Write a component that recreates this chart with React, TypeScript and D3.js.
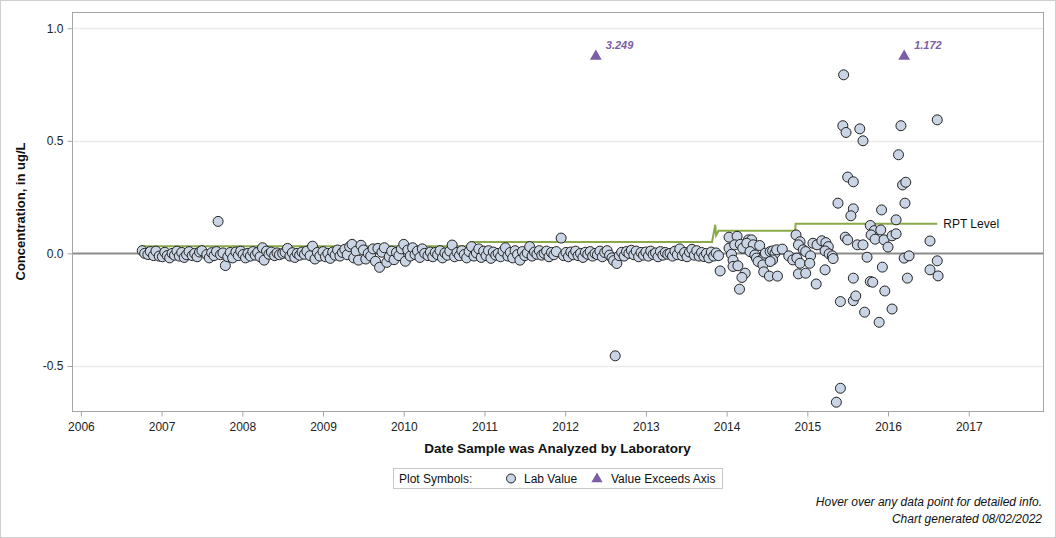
import * as d3 from "d3";
import { useEffect, useRef } from "react";

// Lab results as [decimal year, concentration ug/L]
const samples2006to2008: [number, number][] = [
  [2006.76, 0.012], [2006.79, 0.0], [2006.83, -0.005], [2006.86, 0.008], [2006.9, -0.01], [2006.93, 0.01], [2006.97, -0.012],
  [2007.01, -0.015], [2007.04, 0.005], [2007.07, -0.01], [2007.1, -0.02], [2007.13, 0.0], [2007.16, -0.008], [2007.19, 0.01],
  [2007.22, -0.012], [2007.25, 0.004], [2007.28, -0.018], [2007.31, -0.006], [2007.34, 0.008], [2007.38, -0.01], [2007.41, 0.0],
  [2007.44, -0.015], [2007.47, 0.006], [2007.5, 0.012], [2007.56, -0.005], [2007.59, -0.02], [2007.62, 0.003], [2007.65, -0.01],
  [2007.68, 0.008], [2007.7, 0.142], [2007.73, -0.006], [2007.76, 0.002], [2007.79, -0.054], [2007.82, -0.015], [2007.85, 0.004],
  [2007.88, -0.02], [2007.92, 0.006], [2007.95, -0.01], [2007.98, 0.01],
  [2008.01, -0.005], [2008.04, -0.02], [2008.07, 0.0], [2008.1, -0.012], [2008.13, 0.008], [2008.16, -0.008], [2008.19, 0.004],
  [2008.22, -0.015], [2008.25, 0.025], [2008.27, -0.03], [2008.3, 0.01], [2008.33, -0.004], [2008.36, 0.006], [2008.4, -0.01],
  [2008.43, 0.002], [2008.46, -0.006], [2008.5, 0.0], [2008.53, 0.005], [2008.56, 0.022], [2008.59, -0.012], [2008.62, 0.003],
  [2008.65, -0.018], [2008.68, 0.0], [2008.71, -0.008], [2008.74, 0.006], [2008.77, -0.004], [2008.8, 0.01], [2008.84, -0.01],
  [2008.87, 0.032], [2008.9, -0.025], [2008.93, 0.004], [2008.96, -0.012],
];

const samples2009to2010: [number, number][] = [
  [2009.0, 0.008], [2009.03, -0.015], [2009.06, 0.0], [2009.09, -0.022], [2009.12, 0.006], [2009.15, -0.008], [2009.18, 0.015],
  [2009.21, -0.012], [2009.24, 0.004], [2009.27, 0.018], [2009.3, -0.006], [2009.33, 0.03], [2009.36, 0.04], [2009.38, -0.02],
  [2009.41, 0.01], [2009.44, -0.03], [2009.47, 0.036], [2009.5, 0.015], [2009.53, -0.025], [2009.56, 0.0], [2009.59, -0.012],
  [2009.62, 0.02], [2009.65, -0.035], [2009.68, 0.022], [2009.7, -0.062], [2009.73, 0.005], [2009.76, 0.025], [2009.79, -0.04],
  [2009.82, -0.015], [2009.85, 0.01], [2009.88, -0.028], [2009.91, 0.004], [2009.94, -0.01], [2009.97, 0.02],
  [2010.0, 0.04], [2010.02, -0.035], [2010.05, 0.015], [2010.08, -0.012], [2010.11, 0.025], [2010.14, -0.005], [2010.17, 0.01],
  [2010.2, -0.018], [2010.23, 0.02], [2010.26, 0.0], [2010.3, -0.01], [2010.33, 0.006], [2010.36, -0.015], [2010.39, 0.004],
  [2010.42, -0.006], [2010.45, 0.012], [2010.48, -0.02], [2010.51, 0.002], [2010.54, -0.008], [2010.57, 0.01], [2010.6, 0.037],
  [2010.63, -0.015], [2010.66, 0.004], [2010.69, -0.01], [2010.72, 0.012], [2010.75, -0.005], [2010.78, -0.02], [2010.81, 0.008],
  [2010.84, 0.03], [2010.87, -0.012], [2010.9, 0.002], [2010.93, 0.02], [2010.96, -0.018], [2010.99, 0.01],
];

const samples2011to2013: [number, number][] = [
  [2011.02, -0.01], [2011.05, 0.012], [2011.08, -0.022], [2011.11, 0.006], [2011.14, -0.008], [2011.17, 0.0], [2011.2, -0.015],
  [2011.23, 0.01], [2011.26, 0.025], [2011.29, -0.012], [2011.32, 0.004], [2011.35, -0.02], [2011.38, 0.012], [2011.41, -0.005],
  [2011.44, -0.03], [2011.47, 0.008], [2011.5, -0.01], [2011.53, 0.002], [2011.56, 0.03], [2011.59, -0.012], [2011.62, 0.006],
  [2011.65, -0.004], [2011.68, 0.012], [2011.71, -0.008], [2011.74, 0.0], [2011.77, 0.01], [2011.8, -0.015], [2011.83, 0.004],
  [2011.86, -0.006], [2011.89, 0.008], [2011.95, 0.068], [2011.98, -0.01],
  [2012.01, 0.004], [2012.04, -0.015], [2012.07, 0.006], [2012.1, -0.006], [2012.13, 0.01], [2012.16, -0.01], [2012.19, 0.0],
  [2012.22, -0.018], [2012.25, 0.005], [2012.28, -0.004], [2012.31, 0.008], [2012.34, -0.012], [2012.37, 0.0], [2012.4, -0.006],
  [2012.43, 0.01], [2012.46, -0.015], [2012.49, 0.004], [2012.52, 0.012], [2012.55, -0.008], [2012.58, -0.02], [2012.6, -0.032],
  [2012.62, -0.455], [2012.64, -0.045], [2012.67, -0.01], [2012.7, 0.005], [2012.73, -0.012], [2012.76, 0.008], [2012.79, 0.0],
  [2012.82, 0.014], [2012.85, -0.006], [2012.88, 0.01], [2012.91, -0.015], [2012.94, 0.004], [2012.97, -0.008],
  [2013.0, 0.006], [2013.03, -0.012], [2013.06, 0.01], [2013.09, -0.005], [2013.12, 0.002], [2013.15, -0.015], [2013.18, 0.008],
  [2013.21, -0.008], [2013.24, 0.004], [2013.27, -0.004], [2013.3, 0.0], [2013.33, -0.012], [2013.36, 0.01], [2013.39, -0.006],
  [2013.42, 0.02], [2013.45, -0.01], [2013.48, 0.004], [2013.51, -0.015], [2013.54, 0.006], [2013.57, 0.018], [2013.6, -0.008],
  [2013.63, 0.012], [2013.66, -0.012], [2013.69, 0.004], [2013.72, -0.014], [2013.75, 0.0], [2013.78, -0.02], [2013.81, 0.006],
  [2013.84, -0.012], [2013.87, 0.002], [2013.9, -0.01], [2013.92, -0.078],
];

const samples2014: [number, number][] = [
  [2014.03, 0.072], [2014.13, 0.076], [2014.03, 0.023], [2014.06, -0.004], [2014.08, -0.03], [2014.08, -0.058], [2014.14, -0.055],
  [2014.1, 0.038], [2014.17, 0.04], [2014.2, 0.023], [2014.23, -0.088], [2014.19, -0.107], [2014.16, -0.159], [2014.27, 0.06],
  [2014.31, 0.06], [2014.25, 0.045], [2014.33, 0.038], [2014.41, 0.035], [2014.29, 0.008], [2014.35, -0.007], [2014.37, -0.021],
  [2014.43, -0.029], [2014.39, -0.036], [2014.45, -0.051], [2014.46, -0.082], [2014.53, -0.101], [2014.63, -0.101], [2014.48, 0.001],
  [2014.54, 0.008], [2014.57, 0.011], [2014.6, 0.001], [2014.62, 0.016], [2014.69, 0.019], [2014.57, -0.029], [2014.54, -0.036],
  [2014.77, -0.011], [2014.82, -0.029], [2014.87, -0.021], [2014.91, -0.044], [2014.86, 0.082], [2014.91, 0.052], [2014.89, 0.038],
  [2014.95, 0.016], [2014.98, 0.008], [2014.89, -0.091], [2014.98, -0.088],
];

const samples2015to2016: [number, number][] = [
  [2015.04, -0.011], [2015.03, -0.044], [2015.07, 0.045], [2015.12, 0.038], [2015.18, 0.056], [2015.23, 0.048], [2015.26, 0.03],
  [2015.11, -0.136], [2015.22, -0.073], [2015.22, 0.011], [2015.27, -0.002], [2015.31, -0.011], [2015.32, -0.023],
  [2015.45, 0.793], [2015.44, 0.567], [2015.48, 0.537], [2015.65, 0.553], [2015.69, 0.5], [2016.16, 0.567], [2016.61, 0.593],
  [2016.13, 0.438], [2015.5, 0.339], [2015.57, 0.318], [2016.18, 0.304], [2016.22, 0.316], [2015.38, 0.223], [2015.57, 0.198],
  [2015.54, 0.167], [2015.92, 0.193], [2016.21, 0.223], [2016.1, 0.149], [2015.78, 0.124], [2015.83, 0.101], [2015.91, 0.104],
  [2015.79, 0.082], [2015.84, 0.063], [2015.95, 0.06], [2016.0, 0.028], [2016.05, 0.078], [2016.1, 0.087], [2015.47, 0.072],
  [2015.5, 0.06], [2015.62, 0.038], [2015.69, 0.038], [2015.74, -0.017], [2016.2, -0.021], [2016.26, -0.011], [2016.52, 0.055],
  [2016.61, -0.033], [2016.52, -0.073], [2016.62, -0.1], [2015.57, -0.11], [2015.78, -0.125], [2015.81, -0.128], [2015.93, -0.061],
  [2016.24, -0.11], [2015.96, -0.167], [2015.41, -0.214], [2015.57, -0.21], [2015.6, -0.189], [2015.71, -0.261], [2016.05, -0.247],
  [2015.89, -0.306], [2015.41, -0.599], [2015.36, -0.661],
];

// Values above the axis maximum
const exceedDates = [2012.38, 2016.2];
const exceedValues = [3.249, 1.172];

// Reporting level over time
const rptLevel: [number, number][] = [
  [2006.74, 0.032], [2010.83, 0.032], [2010.835, 0.051], [2013.82, 0.051], [2013.86, 0.127],
  [2013.87, 0.08], [2013.9, 0.1], [2014.85, 0.1], [2014.855, 0.132], [2016.61, 0.132],
];

const yTicks = [-0.5, 0, 0.5, 1.0];
const xTicks = [2006, 2007, 2008, 2009, 2010, 2011, 2012, 2013, 2014, 2015, 2016, 2017];

const W = 1056;
const H = 538;
const FONT = "'Liberation Sans', Arial, sans-serif";

const App = () => {
  const svgRef = useRef<SVGSVGElement>(null);

  useEffect(() => {
    const svg = d3.select(svgRef.current);
    svg.selectAll("*").remove();

    const left = 72, right = 1043, top = 12, bottom = 411;
    const x = d3.scaleLinear().domain([2005.89, 2017.92]).range([left, right]);
    const y = d3.scaleLinear().domain([-0.7, 1.072]).range([bottom, top]);

    svg.attr("width", W).attr("height", H).style("font-family", FONT);

    // outer frame
    svg.append("rect")
      .attr("x", 0.5).attr("y", 0.5)
      .attr("width", W - 1).attr("height", H - 1)
      .attr("fill", "#fff").attr("stroke", "#cfcfcf");

    // gridlines
    svg.append("g")
      .selectAll("line")
      .data(yTicks.filter((d) => d !== 0))
      .enter()
      .append("line")
      .attr("x1", left).attr("x2", right)
      .attr("y1", (d) => Math.round(y(d)) + 0.5)
      .attr("y2", (d) => Math.round(y(d)) + 0.5)
      .attr("stroke", "#ebebeb").attr("stroke-width", 1.5);

    // zero reference
    svg.append("line")
      .attr("x1", left).attr("x2", right)
      .attr("y1", y(0)).attr("y2", y(0))
      .attr("stroke", "#8c8c8c").attr("stroke-width", 2);

    // plot frame
    svg.append("rect")
      .attr("x", left + 0.5).attr("y", top + 0.5)
      .attr("width", right - left).attr("height", bottom - top)
      .attr("fill", "none").attr("stroke", "#a6a6a6");

    // Y axis
    const yAxis = svg.append("g")
      .attr("transform", `translate(${left + 0.5},0)`)
      .call(d3.axisLeft(y).tickValues(yTicks).tickSize(5).tickFormat((d) => (+d).toFixed(1)));
    yAxis.select(".domain").remove();
    yAxis.selectAll("line").attr("stroke", "#a6a6a6");
    yAxis.selectAll("text").attr("font-size", 12).attr("fill", "#222").attr("font-family", FONT)
      .attr("x", -9);

    // X axis
    const xAxis = svg.append("g")
      .attr("transform", `translate(0,${bottom + 0.5})`)
      .call(d3.axisBottom(x).tickValues(xTicks).tickSize(5).tickFormat(d3.format("d")));
    xAxis.select(".domain").remove();
    xAxis.selectAll("line").attr("stroke", "#a6a6a6");
    xAxis.selectAll("text").attr("font-size", 12).attr("fill", "#222").attr("font-family", FONT)
      .attr("y", 11);

    // axis titles
    svg.append("text")
      .attr("transform", `translate(25,${(top + bottom) / 2}) rotate(-90)`)
      .attr("text-anchor", "middle")
      .attr("font-size", 13).attr("font-weight", "bold").attr("fill", "#111")
      .text("Concentration, in ug/L");

    svg.append("text")
      .attr("x", (left + right) / 2).attr("y", 453)
      .attr("text-anchor", "middle")
      .attr("font-size", 13.5).attr("font-weight", "bold").attr("fill", "#111")
      .text("Date Sample was Analyzed by Laboratory");

    // RPT level step line
    const line = d3.line<[number, number]>().x((d) => x(d[0])).y((d) => y(d[1]));
    svg.append("path")
      .attr("d", line(rptLevel))
      .attr("fill", "none").attr("stroke", "#8aaa4a").attr("stroke-width", 2);
    const last = rptLevel[rptLevel.length - 1];
    svg.append("text")
      .attr("x", x(last[0]) + 6).attr("y", y(last[1]) + 4)
      .attr("font-size", 12).attr("fill", "#111")
      .text("RPT Level");

    // lab values
    const all = [...samples2006to2008, ...samples2009to2010, ...samples2011to2013, ...samples2014, ...samples2015to2016];
    svg.append("g")
      .selectAll("circle")
      .data(all)
      .enter()
      .append("circle")
      .attr("cx", (d) => x(d[0]))
      .attr("cy", (d) => y(d[1]))
      .attr("r", 5)
      .attr("fill", "#c9d4e4")
      .attr("stroke", "#222")
      .attr("stroke-width", 1);

    // exceedance markers pinned below axis max
    const capY = y(0.875);
    const tri = d3.symbol().type(d3.symbolTriangle).size(60);
    exceedDates.forEach((dt, i) => {
      svg.append("path")
        .attr("d", tri())
        .attr("transform", `translate(${x(dt)},${capY})`)
        .attr("fill", "#7b5ea6");
      svg.append("text")
        .attr("x", x(dt) + 10).attr("y", capY - 7)
        .attr("font-size", 11).attr("font-weight", "bold").attr("font-style", "italic")
        .attr("fill", "#7b5ea6")
        .text(d3.format(".3f")(exceedValues[i]));
    });

    // legend
    const lg = svg.append("g").attr("transform", "translate(393,468)");
    lg.append("rect")
      .attr("x", 0.5).attr("y", 0.5).attr("width", 329).attr("height", 20)
      .attr("fill", "#fff").attr("stroke", "#c8c8c8");
    lg.append("text").attr("x", 6).attr("y", 15).attr("font-size", 12).attr("fill", "#111").text("Plot Symbols:");
    lg.append("circle").attr("cx", 118).attr("cy", 10.5).attr("r", 4.5)
      .attr("fill", "#c9d4e4").attr("stroke", "#222");
    lg.append("text").attr("x", 131).attr("y", 15).attr("font-size", 12).attr("fill", "#111").text("Lab Value");
    lg.append("path").attr("d", d3.symbol().type(d3.symbolTriangle).size(55)())
      .attr("transform", "translate(204,11)").attr("fill", "#7b5ea6");
    lg.append("text").attr("x", 218).attr("y", 15).attr("font-size", 12).attr("fill", "#111").text("Value Exceeds Axis");

    // footnotes
    svg.append("text")
      .attr("x", 1042).attr("y", 506)
      .attr("text-anchor", "end").attr("font-size", 12).attr("font-style", "italic").attr("fill", "#111")
      .text("Hover over any data point for detailed info.");
    svg.append("text")
      .attr("x", 1042).attr("y", 523)
      .attr("text-anchor", "end").attr("font-size", 12).attr("font-style", "italic").attr("fill", "#111")
      .text("Chart generated 08/02/2022");
  }, []);

  return <svg ref={svgRef} style={{ position: "absolute", left: 0, top: 0, display: "block" }}></svg>;
};

export default App;
